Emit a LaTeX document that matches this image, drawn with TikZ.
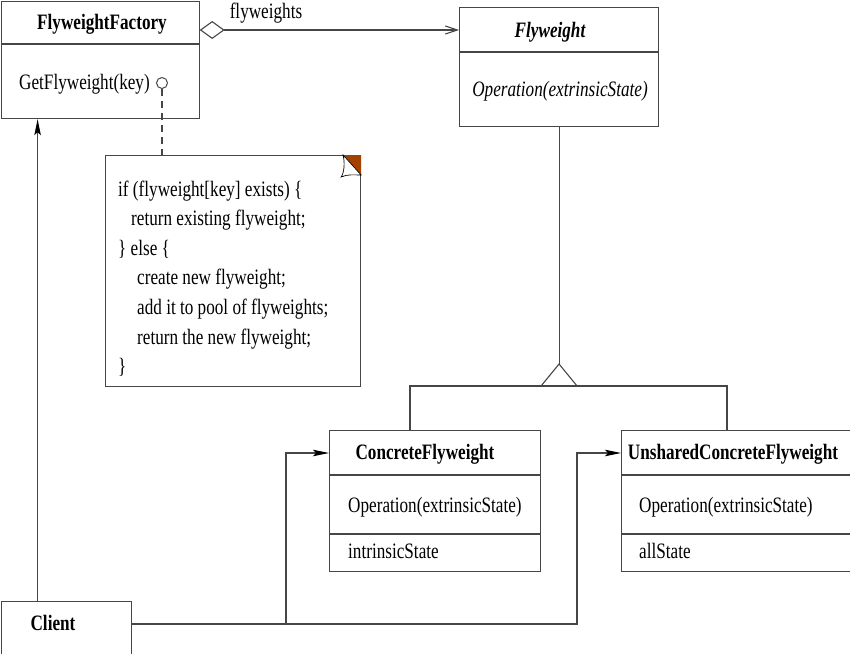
\documentclass[tikz,border=0pt]{standalone}
\usepackage{fontspec}
\setmainfont[FakeStretch=0.78]{Liberation Serif}
\usetikzlibrary{arrows.meta}
\definecolor{umlgray}{RGB}{70,70,70}
\definecolor{foldbrown}{RGB}{163,65,0}
\tikzset{
  classbox/.style={draw=umlgray, line width=1.1pt, inner sep=0pt, anchor=north west},
  txt/.style={inner sep=0pt, font=\fontsize{22}{26}\selectfont, text height=15pt, text depth=2pt},
  classname/.style={txt, font=\fontsize{22}{26}\selectfont\bfseries},
  link/.style={draw=umlgray, line width=1.1pt},
  solidarrow/.style={link, -{Stealth[length=16pt,width=6.5pt,inset=3pt,color=black]}}
}
\begin{document}
\begin{tikzpicture}[x=1pt,y=-1pt]
  \useasboundingbox (0,0) rectangle (850,653);
  \node[classbox, minimum width=198pt, minimum height=117.5pt] (factory) at (0.6,0.6) {};
  \node[classbox, minimum width=199pt, minimum height=119pt] (flyweight) at (459,7) {};
  \node[classbox, minimum width=211pt, minimum height=141pt] (concrete) at (329,430) {};
  \node[classbox, minimum width=240pt, minimum height=141pt] (unshared) at (621,430) {};
  \node[classbox, minimum width=130pt, minimum height=60pt] (client) at (0.6,601) {};
  \node[classbox, minimum width=255pt, minimum height=231pt] (note) at (105,155) {};
  \draw[link] (factory.west |- 0,44) -- (factory.east |- 0,44);
  \draw[link] (flyweight.west |- 0,52) -- (flyweight.east |- 0,52);
  \foreach \cls/\y in {concrete/475, concrete/534, unshared/475, unshared/534} {\draw[link] (\cls.west |- 0,\y) -- (\cls.east |- 0,\y);}
  \node[classname] (factoryname) at (102,23) {FlyweightFactory};
  \node[txt, anchor=west] (getop) at (19,83) {GetFlyweight(key)};
  \node[circle, draw=umlgray, line width=1pt, minimum size=11pt, inner sep=0pt] (port) at (162,83) {};
  \node[classname, font=\fontsize{22}{26}\selectfont\bfseries\itshape] (flyname) at (550,31) {Flyweight};
  \node[txt, font=\fontsize{22}{26}\selectfont\itshape] (flyop) at (560,90) {Operation(extrinsicState)};
  \node[classname] (cfname) at (425,453) {ConcreteFlyweight};
  \node[txt, anchor=west] (cfop) at (348,506) {Operation(extrinsicState)};
  \node[txt, anchor=west] (cfstate) at (348,552) {intrinsicState};
  \node[classname] (ucfname) at (733,453) {UnsharedConcreteFlyweight};
  \node[txt, anchor=west] (ucfop) at (639,506) {Operation(extrinsicState)};
  \node[txt, anchor=west] (ucfstate) at (639,552) {allState};
  \node[classname] (clientname) at (53,624) {Client};
  \node[txt] (aggname) at (266,12) {flyweights};
  \foreach \dx/\code [count=\i from 0] in {0/{if (flyweight[key] exists) \{}, 13/{return existing flyweight;}, 0/{\} else \{}, 19/{create new flyweight;}, 19/{add it to pool of flyweights;}, 19/{return the new flyweight;}, 0/\}} {\node[txt, anchor=base west] (noteline\i) at (118+\dx, 196+29.6*\i) {\code};}
  \fill[foldbrown] ([xshift=-18pt]note.north east) -- (note.north east) -- ([yshift=-20pt]note.north east) -- cycle;
  \draw[fill=white, draw=black, line width=0.7pt] ([xshift=-18pt]note.north east) .. controls +(2,8) and +(3,-4) .. ([xshift=-20pt,yshift=-22pt]note.north east) .. controls +(6,-3) and +(-6,0) .. ([yshift=-20pt]note.north east) -- cycle;
  \draw[link, {Diamond[open,length=25pt,width=18pt]}-{Straight Barb[length=12pt,width=8pt]}] (factory.east |- 0,30) -- (flyweight.west |- 0,30);
  \draw[link, dashed, dash pattern=on 7pt off 5pt] (port.south) -- (port.south |- note.north);
  \draw[solidarrow] ([xshift=37pt]client.north west) -- ([xshift=37pt]factory.south west);
  \coordinate (fork1) at (286,453);
  \coordinate (fork2) at (577,453);
  \draw[solidarrow] (clientname -| client.east) -| (fork1) -- (cfname -| concrete.west);
  \draw[solidarrow] (fork1 |- clientname) -| (fork2) -- (ucfname -| unshared.west);
  \coordinate (apex) at (flyweight.south |- 0,364);
  \draw[link] (flyweight.south) -- (apex);
  \draw[link] (apex) -- ++(-18,22) -- ++(36,0) -- cycle;
  \draw[link] ([xshift=81pt]concrete.north west) -- ++(0,-44) -| ([xshift=106pt]unshared.north west);
\end{tikzpicture}
\end{document}
